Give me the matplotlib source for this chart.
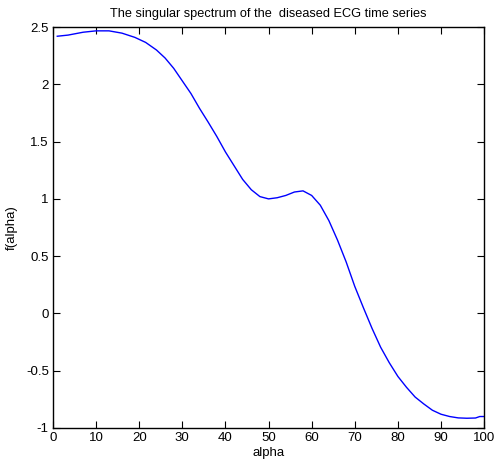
import matplotlib
matplotlib.use('Agg')
import matplotlib.pyplot as plt

plt.rcParams['font.family'] = ['Liberation Sans', 'DejaVu Sans']

# singular spectrum
alpha = [1, 3.5, 7, 10, 13, 16, 19, 21.5, 24, 26, 28, 30, 32, 34, 36, 38, 40, 42,
         44, 46, 48, 50, 52, 54, 56, 58, 60, 62, 64, 66, 68, 70, 72, 74, 76, 78,
         80, 82, 84, 86, 88, 90, 92, 94, 96, 98, 99, 100]
f_alpha = [2.42, 2.43, 2.455, 2.467, 2.467, 2.447, 2.41, 2.366, 2.30, 2.23, 2.14,
           2.03, 1.92, 1.79, 1.67, 1.545, 1.41, 1.29, 1.17, 1.08, 1.02, 1.00, 1.01,
           1.03, 1.06, 1.07, 1.03, 0.945, 0.81, 0.64, 0.45, 0.236, 0.05, -0.13,
           -0.295, -0.43, -0.55, -0.645, -0.73, -0.79, -0.845, -0.88, -0.90,
           -0.912, -0.915, -0.913, -0.90, -0.90]

xticks = list(range(0, 101, 10))
yticks = [-1, -0.5, 0, 0.5, 1, 1.5, 2, 2.5]
ytick_labels = ['-1', '-0.5', '0', '0.5', '1', '1.5', '2', '2.5']

fig = plt.figure(figsize=(4.95, 4.75), dpi=100)
ax = fig.add_axes([0.107, 0.099, 0.871, 0.844])
ax.plot(alpha, f_alpha, color='blue', linewidth=1.0)

ax.set_xlim(0, 100)
ax.set_ylim(-1, 2.5)
ax.set_xticks(xticks)
ax.set_yticks(yticks)
ax.set_yticklabels(ytick_labels)
ax.tick_params(direction='in', top=True, right=True, length=5, labelsize=9.5, pad=3)
for s in ax.spines.values():
    s.set_linewidth(1.0)

ax.set_title('The singular spectrum of the  diseased ECG time series', fontsize=9.2, pad=7)
ax.set_xlabel('alpha', fontsize=9.5, labelpad=2)
ax.set_ylabel('f(alpha)', fontsize=9.5, labelpad=6)

fig.savefig('out.png', dpi=100)
